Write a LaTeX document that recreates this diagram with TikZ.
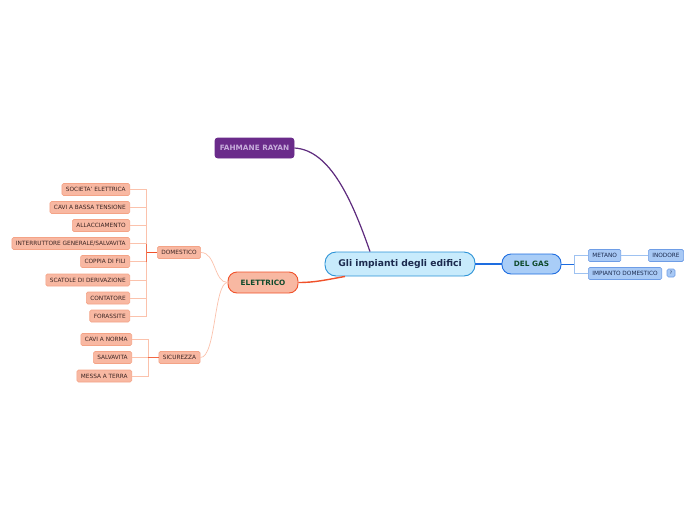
\documentclass[tikz,border=0pt]{standalone}
\usepackage{fontspec}
\setmainfont{DejaVu Sans}
\usepackage{tikz}

\definecolor{rootfill}{HTML}{C8EBFC}
\definecolor{rootline}{HTML}{2B92D6}
\definecolor{roottext}{HTML}{1B2A4E}
\definecolor{elfill}{HTML}{F8B8A2}
\definecolor{elline}{HTML}{F0512A}
\definecolor{eltext}{HTML}{0F4A2C}
\definecolor{leafline}{HTML}{F4A386}
\definecolor{leaftext}{HTML}{3A2422}
\definecolor{twigline}{HTML}{FBC2AC}
\definecolor{purfill}{HTML}{6A2B8A}
\definecolor{purtext}{HTML}{C7ADDB}
\definecolor{purline}{HTML}{5E2B7E}
\definecolor{gasfill}{HTML}{A9CDF7}
\definecolor{gasline}{HTML}{1E6DE0}
\definecolor{gasleaf}{HTML}{A8C9F5}
\definecolor{gasleafline}{HTML}{6E9DE6}
\definecolor{gastwig}{HTML}{9EC2F1}

\tikzset{
    topic/.style={rounded corners=7pt, line width=0.9pt, inner sep=0pt, font=\bfseries\fontsize{7.3}{8}\selectfont},
    leaf/.style={draw=leafline, fill=elfill, rounded corners=1.5pt, line width=0.6pt, inner xsep=4pt, inner ysep=0pt,
        minimum height=12pt, text=leaftext, font=\fontsize{5.8}{6.5}\selectfont},
    gasleafbox/.style={leaf, draw=gasleafline, fill=gasleaf, text=roottext},
    twig/.style={draw=twigline, line width=0.7pt},
    bough/.style={draw=elline, line width=1.4pt},
}

\begin{document}
\begin{tikzpicture}[x=1pt,y=1pt,yscale=-1]
        \useasboundingbox (0,0) rectangle (696,520);

        % Main topics
        \node [topic, draw=rootline, fill=rootfill, text=roottext, minimum width=150pt, minimum height=24pt,
            rounded corners=11pt, font=\bfseries\fontsize{9.2}{10}\selectfont] (cen) at (400,264) {Gli impianti degli edifici};
        \node [topic, draw=elline, fill=elfill, text=eltext, minimum width=70pt, minimum height=21pt, rounded corners=9pt] (elet) at (263,282.5) {ELETTRICO};
        \node [topic, draw=purfill, fill=purfill, text=purtext, minimum width=79pt, minimum height=20pt, rounded corners=3pt] (fah) at (254.5,148) {FAHMANE RAYAN};
        \node [topic, draw=gasline, fill=gasfill, text=eltext, minimum width=59pt, minimum height=20pt, rounded corners=9pt] (gas) at (531.5,264) {DEL GAS};

        % Subtopics
        \node [leaf] (dom) at (179,252.5) {DOMESTICO};
        \node [leaf] (sic) at (179.5,357.5) {SICUREZZA};

        % Domestico items
        \node [leaf, anchor=east] (soc) at (130,189.5) {SOCIETA' ELETTRICA};
        \node [leaf, anchor=east] (cav) at (130,207.5) {CAVI A BASSA TENSIONE};
        \node [leaf, anchor=east] (all) at (130,225.5) {ALLACCIAMENTO};
        \node [leaf, anchor=east] (int) at (130,243.5) {INTERRUTTORE GENERALE/SALVAVITA};
        \node [leaf, anchor=east] (cop) at (130,261.5) {COPPIA DI FILI};
        \node [leaf, anchor=east] (sca) at (130,280) {SCATOLE DI DERIVAZIONE};
        \node [leaf, anchor=east] (con) at (130,298) {CONTATORE};
        \node [leaf, anchor=east] (for) at (130,316) {FORASSITE};

        % Sicurezza items
        \node [leaf, anchor=east] (nor) at (132,339.5) {CAVI A NORMA};
        \node [leaf, anchor=east] (sal) at (132,357.5) {SALVAVITA};
        \node [leaf, anchor=east] (mes) at (132,376) {MESSA A TERRA};

        % Gas items
        \node [gasleafbox, anchor=west] (met) at (588,255.5) {METANO};
        \node [gasleafbox, anchor=west] (ino) at (648,255.5) {INODORE};
        \node [gasleafbox, anchor=west] (imp) at (588,273.5) {IMPIANTO DOMESTICO};
        \node [gasleafbox, inner sep=0pt, minimum width=8pt, minimum height=8pt, font=\fontsize{4.5}{5}\selectfont] (que) at (671,273) {?};

        % Joints
        \coordinate (domj) at (146,252.5);
        \coordinate (sicj) at (148,357.5);
        \coordinate (gasj) at (574,264);

        % Connectors from the root
        \draw [purline, line width=1.2pt] ([xshift=-30pt]cen.north) .. controls (352,200) and (330,150) .. (fah.east);
        \draw [bough] ([xshift=-55pt]cen.south) .. controls (325,280) and (315,282.5) .. (elet.east);
        \draw [gasline, line width=1.2pt] (cen.east) -- (gas.west);

        % Elettrico branches
        \draw [twig] (elet.west) .. controls (214,282.5) and (216,252.5) .. (dom.east);
        \draw [twig] (elet.west) .. controls (214,282.5) and (216,357.5) .. (sic.east);

        \foreach \item in {soc,cav,all,int,cop,sca,con,for}
            \draw [twig] (\item.east) -| (domj);
        \draw [elline, line width=0.9pt] (domj) -- (dom.west);
        \draw [elline!70!twigline, line width=0.7pt] ([yshift=-9pt]domj) -- ([yshift=9pt]domj);

        \foreach \item in {nor,sal,mes}
            \draw [twig] (\item.east) -| (sicj);
        \draw [elline!80!twigline, line width=0.8pt] (sicj) -- (sic.west);

        % Gas branches
        \draw [gasline, line width=0.8pt] (gas.east) -- (gasj);
        \draw [gastwig, line width=0.7pt] (met.west) -| (gasj);
        \draw [gastwig, line width=0.7pt] (imp.west) -| (gasj);
        \draw [gastwig, line width=0.7pt] (met.east) -- (ino.west);
\end{tikzpicture}
\end{document}
